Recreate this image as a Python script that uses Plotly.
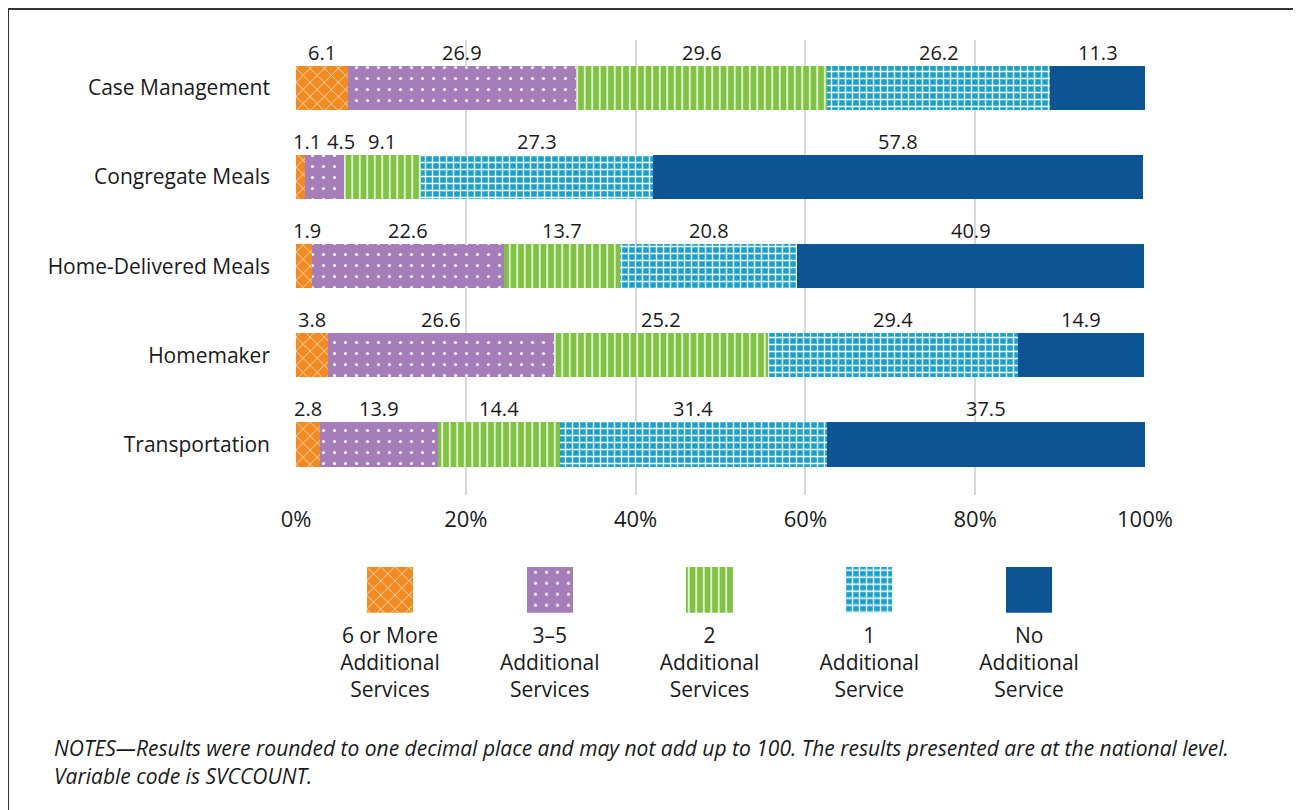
import plotly.graph_objects as go

categories = ["Case Management", "Congregate Meals", "Home-Delivered Meals", "Homemaker", "Transportation"]
series_names = ["6 or More Additional Services", "3\u20135 Additional Services", "2 Additional Services",
                "1 Additional Service", "No Additional Service"]
legend_labels = ["6 or More<br>Additional<br>Services", "3\u20135<br>Additional<br>Services",
                 "2<br>Additional<br>Services", "1<br>Additional<br>Service", "No<br>Additional<br>Service"]
six_plus = [6.1, 1.1, 1.9, 3.8, 2.8]
three_five = [26.9, 4.5, 22.6, 26.6, 13.9]
two = [29.6, 9.1, 13.7, 25.2, 14.4]
one = [26.2, 27.3, 20.8, 29.4, 31.4]
none_ = [11.3, 57.8, 40.9, 14.9, 37.5]
series_values = [six_plus, three_five, two, one, none_]
tick_vals = [0, 20, 40, 60, 80, 100]
tick_text = ["0%", "20%", "40%", "60%", "80%", "100%"]

colors = ["#F18B21", "#A57DB8", "#80C342", "#18A2D0", "#0C5494"]
patterns = [
    dict(shape="x", size=10, solidity=0.12),
    dict(shape=".", size=11, solidity=0.06),
    dict(shape="|", size=7.5, solidity=0.2),
    dict(shape="+", size=7, solidity=0.35),
    dict(shape="", size=8, solidity=0.2),
]

FONT = "Open Sans"
TXT = "#1a1a1a"

fig = go.Figure()
for name, vals, col, pat in zip(series_names, series_values, colors, patterns):
    p = dict(pat)
    p.update(fgcolor="white", bgcolor=col, fillmode="replace")
    fig.add_trace(go.Bar(
        x=vals, y=categories, orientation="h", name=name, width=0.5,
        marker=dict(color=col, line=dict(width=0), pattern=p),
        showlegend=False, hoverinfo="x+name",
    ))

# legend swatches as a small bar chart
for i, (name, col, pat) in enumerate(zip(series_names, colors, patterns)):
    p = dict(pat)
    p.update(fgcolor="white", bgcolor=col, fillmode="replace")
    fig.add_trace(go.Bar(
        x=[i], y=[1], xaxis="x2", yaxis="y2", width=0.288, name=name,
        marker=dict(color=col, line=dict(width=0), pattern=p),
        showlegend=False, hoverinfo="name",
    ))

# value labels above segments
annotations = []
for ci, cat in enumerate(categories):
    cum = 0.0
    prev = None
    for vals in series_values:
        v = vals[ci]
        center = cum + v / 2
        xpos = max(center, 1.3)
        if prev is not None and xpos < prev + 4.0:
            xpos = prev + 4.0
        prev = xpos
        annotations.append(dict(
            x=xpos, y=cat, xref="x", yref="y", text=f"{v:.1f}", showarrow=False,
            yshift=36, font=dict(family=FONT, size=20, color=TXT), xanchor="center", yanchor="middle",
        ))
        cum += v

annotations.append(dict(
    x=-0.2874, y=-0.0567, xref="paper", yref="paper", xanchor="left", yanchor="middle",
    showarrow=False, align="left",
    text="<i>NOTES\u2014Results were rounded to one decimal place and may not add up to 100. The results presented are at the national level.</i>",
    font=dict(family=FONT, size=21, color=TXT),
))
annotations.append(dict(
    x=-0.2874, y=-0.0985, xref="paper", yref="paper", xanchor="left", yanchor="middle",
    showarrow=False, align="left",
    text="<i>Variable code is SVCCOUNT.</i>",
    font=dict(family=FONT, size=21, color=TXT),
))

fig.update_layout(
    width=1301, height=810,
    margin=dict(l=288, r=164, t=32, b=108),
    paper_bgcolor="white", plot_bgcolor="white",
    barmode="stack",
    font=dict(family=FONT, color=TXT),
    xaxis=dict(domain=[0, 1], range=[0, 100], tickvals=tick_vals, ticktext=tick_text,
               showgrid=True, gridcolor="#D9D9D9", gridwidth=2, zeroline=False,
               showline=False, ticks="", ticklabelstandoff=9,
               tickfont=dict(family=FONT, size=22, color=TXT), anchor="y", fixedrange=True),
    yaxis=dict(domain=[0.3209, 1.0], range=[4.57, -0.54], showgrid=False, zeroline=False,
               showline=False, ticks="", ticklabelstandoff=25,
               tickfont=dict(family=FONT, size=21, color=TXT), anchor="x", fixedrange=True),
    xaxis2=dict(domain=[0.0165, 0.9576], range=[-0.5, 4.5], tickvals=[0, 1, 2, 3, 4],
                ticktext=legend_labels, showgrid=False, zeroline=False, showline=False, ticks="",
                ticklabelstandoff=8, tickfont=dict(family=FONT, size=21, color=TXT),
                anchor="y2", fixedrange=True),
    yaxis2=dict(domain=[0.1452, 0.2139], range=[0, 1], visible=False, anchor="x2", fixedrange=True),
    annotations=annotations,
    shapes=[dict(type="rect", xref="paper", yref="paper", x0=-0.3392, x1=1.3, y0=1.0463, y1=-0.3,
                 line=dict(color="#333333", width=2), fillcolor="rgba(0,0,0,0)", layer="below")],
)

fig.write_html("out.html")
